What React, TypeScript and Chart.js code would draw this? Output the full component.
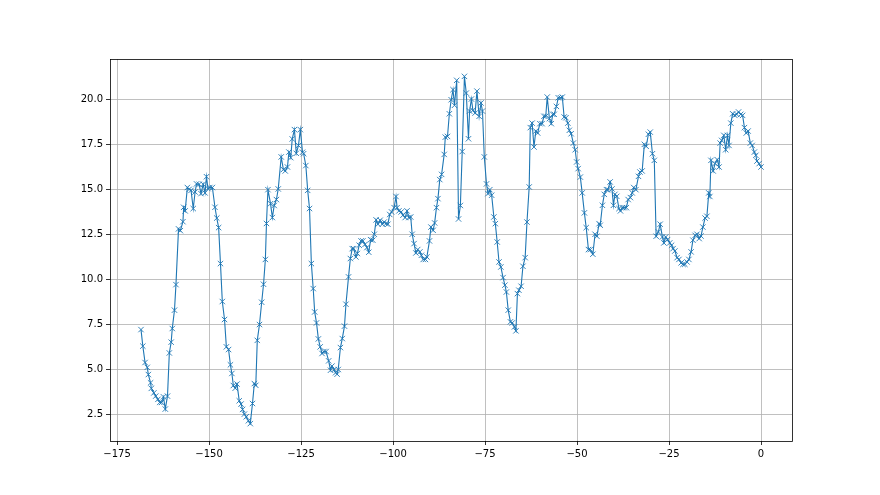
import React, { useEffect, useRef } from "react";
import { Chart, registerables } from "chart.js";

Chart.register(...registerables);

const xValues: number[] = [
  -168.5, -168.0, -167.4, -166.8, -166.5, -165.9, -165.7, -165.0, -164.5, -163.9,
  -163.4, -162.9, -162.4, -161.9, -161.3, -160.8, -160.3, -160.0, -159.4, -159.0,
  -158.3, -157.8, -157.1, -156.9, -156.5, -155.9, -155.4, -154.9, -154.3, -153.8,
  -153.4, -152.7, -152.2, -151.6, -151.1, -150.7, -150.3, -149.8, -149.1,
  -148.4, -147.9, -147.4, -146.9, -146.4, -145.8, -145.3, -144.7, -144.2, -143.8,
  -143.4, -142.9, -142.4, -141.8, -141.3, -140.9, -140.4, -139.9, -139.3, -138.8,
  -138.2, -137.7, -137.3, -136.9, -136.3, -135.7, -135.2, -134.7, -134.4, -134.0,
  -133.3, -132.8, -132.3, -131.7, -131.2, -130.4, -129.8, -129.3, -128.7, -128.3,
  -127.8, -127.4, -126.8, -126.3, -125.7, -125.2,
  -124.6, -124.3, -123.7, -123.2, -122.7, -122.2, -121.7, -121.3, -120.8, -120.3,
  -119.8, -119.3, -118.8, -118.2, -117.5, -117.0, -116.6, -116.0, -115.6, -115.2,
  -114.9, -114.3, -113.8, -113.2, -112.8, -112.1, -111.6, -111.1, -110.7, -110.1,
  -109.7, -109.2, -108.7, -108.2, -107.6, -107.1, -106.6, -106.1, -105.5, -105.1,
  -104.6, -104.1, -103.5, -102.9, -102.4, -101.9, -101.4, -100.9, -100.4, -99.7,
  -99.2, -98.9, -98.4, -97.8, -97.3, -96.7, -96.2, -95.7, -95.2, -94.8,
  -94.3, -93.8, -93.3, -92.7, -92.3, -91.8, -91.2, -90.8, -90.1, -89.7,
  -89.1, -88.7, -88.2, -87.8, -87.3, -86.8, -86.1, -85.8, -85.2, -84.7,
  -84.2, -83.7, -83.3, -82.7, -82.2, -81.7, -81.2, -80.6, -80.1, -79.5,
  -79.2, -78.7, -78.3, -77.7, -77.2, -76.6, -76.1, -75.7, -75.2, -74.6,
  -74.2, -73.7, -73.2, -72.6, -72.2, -71.7, -71.2, -70.7, -70.1, -69.6,
  -69.2, -68.7, -68.1, -67.6, -67.0, -66.6, -66.2, -65.8, -65.2, -64.7,
  -64.1, -63.6, -63.0, -62.7, -62.2, -61.7, -61.2, -60.7, -60.1,
  -59.5, -59.0, -58.5, -58.1, -57.5, -57.0, -56.6, -56.2, -55.6, -55.1,
  -54.5, -54.0, -53.5, -53.0, -52.5, -52.1, -51.6, -51.0, -50.5, -50.1,
  -49.7, -49.1, -48.6, -48.0, -47.5, -46.9, -46.4, -45.7, -45.1, -44.6,
  -44.0, -43.7, -43.1, -42.6, -42.0, -41.6, -41.0, -40.5, -40.1, -39.7,
  -39.2, -38.6, -38.2, -37.7, -37.2, -36.6, -36.1, -35.5, -35.0, -34.6,
  -34.0, -33.3, -32.9, -32.3, -31.7, -31.2, -30.6, -30.1, -29.5, -29.0,
  -28.5, -27.9, -27.4, -26.8, -26.4, -25.9, -25.4, -24.8, -24.3, -23.9,
  -23.4, -22.8, -22.3, -21.7, -21.2, -20.7, -20.1, -19.6, -19.0, -18.5,
  -17.9, -17.4, -16.8, -16.3, -15.8, -15.2, -14.7, -14.2, -13.9, -13.6,
  -13.0, -12.5, -11.9, -11.4, -11.1, -10.7, -10.1, -9.6, -9.1, -8.7,
  -8.2, -7.7, -7.1, -6.6, -6.1, -5.5, -5.0, -4.5, -4.0, -3.5,
  -2.9, -2.4, -1.8, -1.4, -1.1, -0.5, 0.0,
];

const yValues: number[] = [
  7.2, 6.28, 5.37, 5.1, 4.7, 4.24, 3.93, 3.68, 3.5, 3.32,
  3.15, 3.15, 3.46, 2.78, 3.5, 5.9, 6.5, 7.26, 8.28, 9.7,
  12.8, 12.7, 13.2, 14.0, 13.8, 15.1, 15.0, 14.94, 13.93, 14.85,
  15.3, 15.28, 14.76, 15.28, 14.8, 15.7, 15.04, 15.1, 15.1,
  14.0, 13.4, 12.87, 10.87, 8.76, 7.76, 6.24, 6.09, 5.24, 4.76,
  4.09, 3.94, 4.17, 3.24, 3.06, 2.76, 2.5, 2.35, 2.13, 1.97,
  3.09, 4.2, 4.1, 6.6, 7.48, 8.72, 9.72, 11.1, 13.1, 14.98,
  14.2, 13.43, 14.1, 14.43, 15.02, 16.8, 16.1, 16.02, 16.24, 17.07,
  16.76, 17.8, 18.32, 17.0, 17.44, 18.32,
  17.06, 16.98, 16.32, 14.94, 13.93, 10.87, 9.48, 8.18, 7.57, 6.68,
  6.24, 5.87, 5.98, 5.98, 5.46, 4.94, 5.17, 4.98, 4.8, 4.72,
  4.98, 6.2, 6.7, 7.39, 8.61, 10.13, 11.15, 11.7, 11.7, 11.24,
  11.43, 11.89, 12.13, 12.13, 11.94, 11.76, 11.5, 12.2, 12.17, 12.5,
  13.3, 13.06, 13.28, 13.06, 13.18, 13.09, 13.06, 13.6, 13.74, 13.98,
  14.6, 13.98, 13.8, 13.74, 13.56, 13.43, 13.8, 13.43, 13.46, 12.5,
  11.98, 11.46, 11.65, 11.52, 11.33, 11.1, 11.1, 11.24, 12.13, 12.9,
  12.72, 13.13, 13.98, 14.48, 15.54, 15.83, 16.94, 17.9, 17.94, 19.2,
  19.98, 20.54, 19.67, 21.06, 13.35, 14.1, 17.1, 21.28, 20.35, 17.81,
  19.35, 20.02, 19.39, 19.24, 20.46, 19.06, 19.8, 19.35, 16.8, 15.3,
  14.76, 14.98, 14.67, 13.46, 13.09, 12.07, 10.96, 10.68, 10.09, 9.67,
  9.29, 8.28, 7.63, 7.57, 7.35, 7.13, 9.2, 9.39, 9.61, 10.72,
  11.2, 13.18, 15.13, 18.43, 18.68, 17.35, 18.24, 18.13, 18.65,
  18.65, 19.06, 19.06, 20.13, 18.93, 18.65, 19.17, 19.17, 19.61, 20.09,
  20.09, 20.13, 19.02, 18.98, 18.68, 18.28, 18.09, 17.57, 17.2, 16.52,
  16.15, 15.68, 14.8, 13.69, 12.87, 11.65, 11.65, 11.39, 12.5, 12.39,
  13.09, 13.0, 14.11, 14.72, 14.98, 14.98, 15.41, 15.02, 14.11, 14.72,
  14.61, 13.93, 13.8, 13.98, 13.98, 13.98, 14.43, 14.54, 14.8, 15.1,
  14.98, 15.72, 15.96, 16.02, 17.5, 17.39, 18.06, 18.18, 16.98, 16.61,
  12.39, 12.63, 13.06, 12.35, 12.02, 12.35, 12.2, 12.02, 11.89, 11.7,
  11.57, 11.2, 11.1, 10.91, 10.83, 10.83, 10.96, 11.1, 11.52, 12.17,
  12.44, 12.5, 12.26, 12.4, 12.9, 13.4, 13.5, 14.8, 14.6, 16.61,
  16.02, 16.43, 16.65, 16.24, 17.57, 17.72, 18.0, 17.2, 18.0, 17.44,
  18.68, 19.2, 19.11, 19.17, 19.3, 19.17, 19.11, 18.43, 18.13, 18.24,
  17.57, 17.44, 17.07, 16.89, 16.57, 16.43, 16.24,
];

const xTicks: number[] = [-175, -150, -125, -100, -75, -50, -25, 0];
const yTicks: number[] = [2.5, 5.0, 7.5, 10.0, 12.5, 15.0, 17.5, 20.0];

const fmtX = (v: number) => (v < 0 ? "\u2212" + Math.abs(v) : String(v));

export default function App() {
  const ref = useRef<HTMLCanvasElement | null>(null);

  useEffect(() => {
    if (!ref.current) return;
    const data = xValues.map((x, i) => ({ x, y: yValues[i] }));
    const xmin = Math.min(...xValues);
    const xmax = Math.max(...xValues);
    const ymin = Math.min(...yValues);
    const ymax = Math.max(...yValues);
    const xm = (xmax - xmin) * 0.05;
    const ym = (ymax - ymin) * 0.05;

    const spines = {
      id: "spines",
      afterDraw(chart: any) {
        const { ctx, chartArea } = chart;
        ctx.save();
        ctx.strokeStyle = "#000";
        ctx.lineWidth = 0.8;
        ctx.strokeRect(
          Math.round(chartArea.left) + 0.5,
          Math.round(chartArea.top) + 0.5,
          Math.round(chartArea.right - chartArea.left),
          Math.round(chartArea.bottom - chartArea.top)
        );
        ctx.restore();
      },
    };

    const font = { family: "DejaVu Sans", size: 10 };

    const chart = new Chart(ref.current, {
      type: "line",
      data: {
        datasets: [
          {
            data,
            borderColor: "#1f77b4",
            backgroundColor: "#1f77b4",
            borderWidth: 1.1,
            pointStyle: "crossRot",
            pointRadius: 3.8,
            pointBorderWidth: 0.9,
            pointBorderColor: "#1f77b4",
            tension: 0,
            fill: false,
          },
        ],
      },
      options: {
        responsive: false,
        animation: false,
        events: [],
        layout: { padding: { left: 0, top: 59, right: 88, bottom: 0 } },
        plugins: { legend: { display: false }, tooltip: { enabled: false } },
        scales: {
          x: {
            type: "linear",
            min: xmin - xm,
            max: xmax + xm,
            afterBuildTicks: (s: any) => {
              s.ticks = xTicks.map((v) => ({ value: v }));
            },
            afterFit: (s: any) => {
              s.height = 54;
            },
            grid: {
              color: "#b0b0b0",
              lineWidth: 0.8,
              tickLength: 4,
              tickColor: "#000",
            },
            border: { display: false },
            ticks: {
              font,
              color: "#000",
              padding: 3,
              maxRotation: 0,
              autoSkip: false,
              callback: (v: any) => fmtX(Number(v)),
            },
          },
          y: {
            type: "linear",
            min: ymin - ym,
            max: ymax + ym,
            afterBuildTicks: (s: any) => {
              s.ticks = yTicks.map((v) => ({ value: v }));
            },
            afterFit: (s: any) => {
              s.width = 110;
            },
            grid: {
              color: "#b0b0b0",
              lineWidth: 0.8,
              tickLength: 4,
              tickColor: "#000",
            },
            border: { display: false },
            ticks: {
              font,
              color: "#000",
              padding: 3,
              autoSkip: false,
              callback: (v: any) => Number(v).toFixed(1),
            },
          },
        },
      },
      plugins: [spines],
    });
    return () => chart.destroy();
  }, []);

  return (
    <div style={{ position: "fixed", left: 0, top: 0, width: 880, height: 495, background: "#fff" }}>
      <canvas ref={ref} width={880} height={495} style={{ width: 880, height: 495, display: "block" }} />
    </div>
  );
}
